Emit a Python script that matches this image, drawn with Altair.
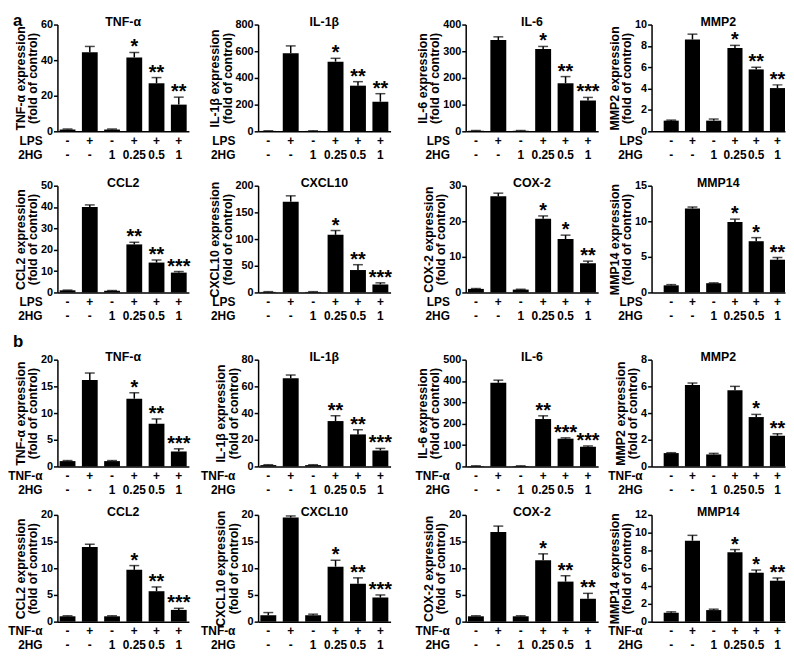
import altair as alt
import pandas as pd
import numpy as np

FONT = "Liberation Sans"

# ---------------- data ----------------
stim_signs = ["-", "+", "-", "+", "+", "+"]
hg_doses = ["-", "-", "1", "0.25", "0.5", "1"]

# panel a (LPS)
a_tnf_mean = [1, 44.5, 1, 41.5, 27, 15]
a_tnf_err = [0.3, 3.2, 0.3, 2.8, 3.2, 4.2]
a_tnf_sig = ["", "", "", "*", "**", "**"]

a_il1b_mean = [3, 585, 3, 522, 342, 222]
a_il1b_err = [1, 55, 1, 25, 30, 60]
a_il1b_sig = ["", "", "", "*", "**", "**"]

a_il6_mean = [2, 342, 2, 308, 180, 115]
a_il6_err = [1, 12, 1, 10, 25, 12]
a_il6_sig = ["", "", "", "*", "**", "***"]

a_mmp2_mean = [1, 8.6, 1.0, 7.8, 5.8, 4.05]
a_mmp2_err = [0.05, 0.5, 0.15, 0.25, 0.2, 0.3]
a_mmp2_sig = ["", "", "", "*", "**", "**"]

a_ccl2_mean = [1, 40, 0.8, 22.5, 14, 9.3]
a_ccl2_err = [0.1, 1, 0.1, 1, 1.2, 0.5]
a_ccl2_sig = ["", "", "", "**", "**", "***"]

a_cxcl10_mean = [1, 170, 1, 108, 42, 15]
a_cxcl10_err = [0.5, 11, 0.5, 8, 10, 3]
a_cxcl10_sig = ["", "", "", "*", "**", "***"]

a_cox2_mean = [1, 27, 0.8, 20.7, 15, 8.2]
a_cox2_err = [0.1, 0.9, 0.1, 0.8, 1.1, 0.6]
a_cox2_sig = ["", "", "", "*", "*", "**"]

a_mmp14_mean = [1, 11.8, 1.3, 9.9, 7.2, 4.6]
a_mmp14_err = [0.1, 0.2, 0.05, 0.4, 0.5, 0.3]
a_mmp14_sig = ["", "", "", "*", "*", "**"]

# panel b (TNF-α)
b_tnf_mean = [1, 16.2, 1, 12.7, 8, 2.8]
b_tnf_err = [0.1, 1.3, 0.1, 1.1, 0.9, 0.5]
b_tnf_sig = ["", "", "", "*", "**", "***"]

b_il1b_mean = [1, 66, 1, 34, 24, 12]
b_il1b_err = [0.3, 2.5, 0.3, 4, 3.5, 1.5]
b_il1b_sig = ["", "", "", "**", "**", "***"]

b_il6_mean = [2, 392, 2, 222, 130, 92]
b_il6_err = [1, 12, 1, 15, 4, 4]
b_il6_sig = ["", "", "", "**", "***", "***"]

b_mmp2_mean = [1, 6.1, 0.9, 5.7, 3.7, 2.3]
b_mmp2_err = [0.03, 0.15, 0.08, 0.3, 0.2, 0.15]
b_mmp2_sig = ["", "", "", "", "*", "**"]

b_ccl2_mean = [1, 14, 1, 9.7, 5.7, 2.2]
b_ccl2_err = [0.1, 0.5, 0.1, 0.8, 0.8, 0.3]
b_ccl2_sig = ["", "", "", "*", "**", "***"]

b_cxcl10_mean = [1.2, 19.5, 1.2, 10.3, 7.1, 4.5]
b_cxcl10_err = [0.5, 0.3, 0.2, 1.2, 1.1, 0.5]
b_cxcl10_sig = ["", "", "", "*", "**", "***"]

b_cox2_mean = [1, 16.8, 1, 11.5, 7.5, 4.3]
b_cox2_err = [0.1, 1.1, 0.1, 1.2, 1.1, 1.0]
b_cox2_sig = ["", "", "", "*", "**", "**"]

b_mmp14_mean = [1, 9.1, 1.3, 7.8, 5.5, 4.6]
b_mmp14_err = [0.1, 0.6, 0.1, 0.3, 0.3, 0.3]
b_mmp14_sig = ["", "", "", "*", "*", "**"]

# (gene, stimulus, means, errs, sigs, ymax, ystep)
rows = [
    [("TNF-α", "LPS", a_tnf_mean, a_tnf_err, a_tnf_sig, 60, 20),
     ("IL-1β", "LPS", a_il1b_mean, a_il1b_err, a_il1b_sig, 800, 200),
     ("IL-6", "LPS", a_il6_mean, a_il6_err, a_il6_sig, 400, 100),
     ("MMP2", "LPS", a_mmp2_mean, a_mmp2_err, a_mmp2_sig, 10, 2)],
    [("CCL2", "LPS", a_ccl2_mean, a_ccl2_err, a_ccl2_sig, 50, 10),
     ("CXCL10", "LPS", a_cxcl10_mean, a_cxcl10_err, a_cxcl10_sig, 200, 50),
     ("COX-2", "LPS", a_cox2_mean, a_cox2_err, a_cox2_sig, 30, 10),
     ("MMP14", "LPS", a_mmp14_mean, a_mmp14_err, a_mmp14_sig, 15, 5)],
    [("TNF-α", "TNF-α", b_tnf_mean, b_tnf_err, b_tnf_sig, 20, 5),
     ("IL-1β", "TNF-α", b_il1b_mean, b_il1b_err, b_il1b_sig, 80, 20),
     ("IL-6", "TNF-α", b_il6_mean, b_il6_err, b_il6_sig, 500, 100),
     ("MMP2", "TNF-α", b_mmp2_mean, b_mmp2_err, b_mmp2_sig, 8, 2)],
    [("CCL2", "TNF-α", b_ccl2_mean, b_ccl2_err, b_ccl2_sig, 20, 5),
     ("CXCL10", "TNF-α", b_cxcl10_mean, b_cxcl10_err, b_cxcl10_sig, 20, 5),
     ("COX-2", "TNF-α", b_cox2_mean, b_cox2_err, b_cox2_sig, 20, 5),
     ("MMP14", "TNF-α", b_mmp14_mean, b_mmp14_err, b_mmp14_sig, 12, 2)],
]
row_letters = {0: "a", 2: "b"}

# ---------------- layout ----------------
H = 108
col_w = [133, 134, 134, 135]
col_gap = [70, 76, 54]
row_gap = [55, 68, 49]
pad_outer = [0.1, 0.1, 0.1, 0.285]
band_align = [0.5, 0.5, 0.5, 1.0]
hdr_x = [-15, -23, -16, -9]


def panel(spec, col, letter=None):
    gene, stim, means, errs, sigs, ymax, ystep = spec
    W = col_w[col]
    df = pd.DataFrame({"idx": list(range(6)), "mean": means, "err": errs,
                       "sig": sigs, "stim": stim_signs, "hg": hg_doses})
    df["top"] = df["mean"] + df["err"]
    base = alt.Chart(df)
    xs = alt.Scale(paddingInner=0.29, paddingOuter=pad_outer[col], align=band_align[col])
    x = alt.X("idx:O", scale=xs,
              axis=alt.Axis(labels=False, ticks=False, title=None, domainColor="black",
                            domainWidth=1.5))
    ys = alt.Scale(domain=[0, ymax], nice=False, zero=True)
    yaxis = alt.Axis(values=[int(v) for v in np.arange(0, ymax + 0.001, ystep)],
                     title=[f"{gene} expression", "(fold of control)"], format="d",
                     grid=False)
    bars = base.mark_bar(color="black").encode(
        x=x, y=alt.Y("mean:Q", scale=ys, axis=yaxis))
    err = base.mark_rule(color="black", strokeWidth=1.5).encode(
        x=x, y=alt.Y("mean:Q", scale=ys, axis=yaxis), y2="top:Q")
    cap = base.mark_tick(color="black", thickness=1.5, size=10, orient="horizontal").encode(
        x=x, y=alt.Y("top:Q", scale=ys, axis=yaxis))
    stars = base.mark_text(font=FONT, fontSize=20, fontWeight="bold", baseline="alphabetic",
                           dy=1, color="black").encode(
        x=x, y=alt.Y("top:Q", scale=ys, axis=yaxis), text="sig:N")
    stim_t = base.mark_text(font=FONT, fontSize=12, fontWeight="bold", baseline="middle",
                            color="black").encode(x=x, y=alt.value(H + 10), text="stim:N")
    hg_t = base.mark_text(font=FONT, fontSize=12, fontWeight="bold", baseline="middle",
                          color="black").encode(x=x, y=alt.value(H + 24), text="hg:N")
    one = alt.Chart(pd.DataFrame({"k": [0]}))
    hdr1 = one.mark_text(font=FONT, fontSize=12, fontWeight="bold", align="right",
                         baseline="middle", color="black").encode(
        x=alt.value(hdr_x[col]), y=alt.value(H + 10), text=alt.value(stim))
    hdr2 = one.mark_text(font=FONT, fontSize=12, fontWeight="bold", align="right",
                         baseline="middle", color="black").encode(
        x=alt.value(hdr_x[col]), y=alt.value(H + 24), text=alt.value("2HG"))
    ttl = one.mark_text(font=FONT, fontSize=12.5, fontWeight="bold", baseline="alphabetic",
                        color="black").encode(
        x=alt.value(W / 2), y=alt.value(1), text=alt.value(gene))
    layers = [bars, err, cap, stars, stim_t, hg_t, hdr1, hdr2, ttl]
    if letter:
        lt = one.mark_text(font=FONT, fontSize=17, fontWeight="bold", align="left",
                           baseline="alphabetic", color="black").encode(
            x=alt.value(-45), y=alt.value(1 if letter == "a" else -13), text=alt.value(letter))
        layers.append(lt)
    return alt.layer(*layers).properties(width=W, height=H)


def spacer(w, h):
    return alt.Chart(pd.DataFrame({"k": [0]})).mark_point(opacity=0).encode(
        x=alt.value(0), y=alt.value(0)).properties(width=w, height=h)


col_widths_all = []
for c in range(4):
    col_widths_all.append(col_w[c])
    if c < 3:
        col_widths_all.append(col_gap[c])

cells = []
for r in range(4):
    for c in range(4):
        cells.append(panel(rows[r][c], c, row_letters.get(r) if c == 0 else None))
        if c < 3:
            cells.append(spacer(col_gap[c], H))
    if r < 3:
        for w in col_widths_all:
            cells.append(spacer(w, row_gap[r]))

chart = alt.concat(*cells, columns=7, spacing=0, bounds="flush", align="each").properties(
    padding={"left": 0, "right": 0, "top": 0, "bottom": 0}
).configure_view(stroke=None).configure_axis(
    labelFont=FONT, labelFontSize=11, labelFontWeight="bold", labelColor="black",
    titleFont=FONT, titleFontSize=12.5, titleFontWeight="bold", titleColor="black",
    titlePadding=1, titleLineHeight=12.5, labelPadding=1,
    domainColor="black", domainWidth=1.5, tickColor="black", tickWidth=1.5, tickSize=4,
)

chart.save("out.html", embed_options={"renderer": "svg", "actions": False})
